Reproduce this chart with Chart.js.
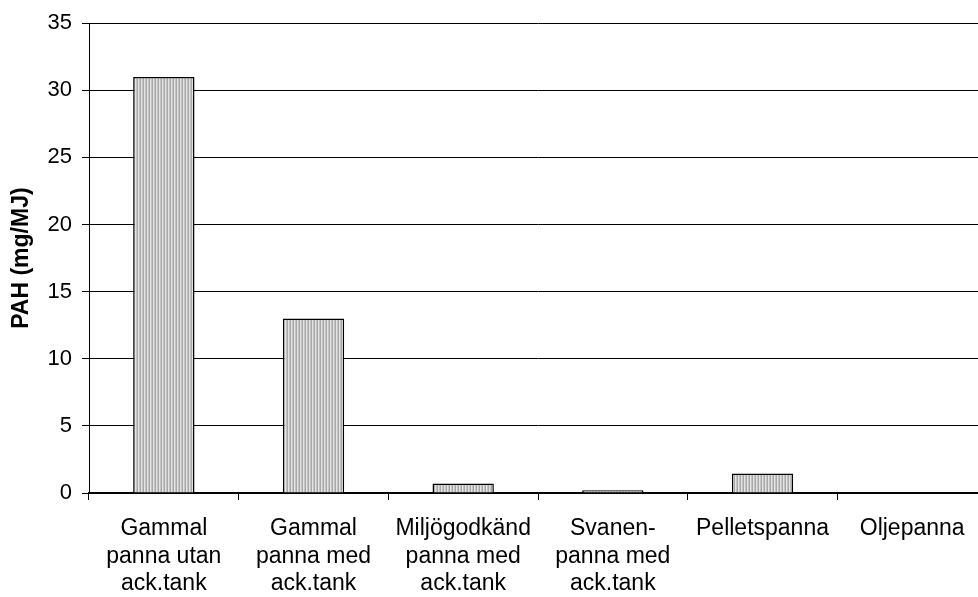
<!DOCTYPE html>
<html>
<head>
<meta charset="utf-8">
<script src="https://cdn.jsdelivr.net/npm/chart.js@4"></script>
<style>
  html, body { margin: 0; padding: 0; background: #fff; overflow: hidden; }
  /* the plot runs a few pixels past the right edge of the page */
  #wrap { width: 978px; height: 597px; overflow: hidden; }
</style>
</head>
<body>
<div id="wrap"><canvas id="c" width="987" height="597"></canvas></div>
<script>
// Boiler types (multi-line category labels)
const categories = [
  ["Gammal", "panna utan", "ack.tank"],
  ["Gammal", "panna med", "ack.tank"],
  ["Miljögodkänd", "panna med", "ack.tank"],
  ["Svanen-", "panna med", "ack.tank"],
  ["Pelletspanna"],
  ["Oljepanna"]
];
// PAH emissions, mg/MJ
const pahValues = [31, 13, 0.7, 0.2, 1.45, 0.05];
const yTicks = [0, 5, 10, 15, 20, 25, 30, 35];

// Vertical stripe fill for the bars
function stripePattern() {
  const p = document.createElement('canvas');
  p.width = 3; p.height = 4;
  const g = p.getContext('2d');
  const cols = ['#e4e4e4', '#c4c4c4', '#a8a8a8'];
  cols.forEach((c, i) => { g.fillStyle = c; g.fillRect(i, 0, 1, 4); });
  return document.getElementById('c').getContext('2d').createPattern(p, 'repeat');
}

const family = 'Arial, "Liberation Sans", sans-serif';
const tickFont = { family: family, size: 22 };
const catFont = { family: family, size: 23, lineHeight: 1.2 };

new Chart(document.getElementById('c'), {
  type: 'bar',
  data: {
    labels: categories,
    datasets: [{
      data: pahValues,
      backgroundColor: stripePattern(),
      borderColor: '#000',
      borderWidth: 1.5,
      barPercentage: 0.82,
      categoryPercentage: 0.5
    }]
  },
  options: {
    responsive: false,
    animation: false,
    layout: { padding: { top: 8, right: 0, left: 0, bottom: 0 } },
    plugins: { legend: { display: false }, tooltip: { enabled: false } },
    scales: {
      x: {
        grid: { drawOnChartArea: false, drawTicks: true, tickLength: 7, color: '#000', offset: true },
        border: { color: '#000', width: 1.5 },
        ticks: { color: '#000', font: catFont, maxRotation: 0, autoSkip: false, padding: 15 },
        afterFit: (s) => { s.height = 104; }
      },
      y: {
        min: 0, max: 35,
        afterBuildTicks: (s) => { s.ticks = yTicks.map(v => ({ value: v })); },
        grid: { color: '#000', lineWidth: 1, tickLength: 7 },
        border: { color: '#000', width: 1 },
        ticks: { color: '#000', font: tickFont, padding: 10 },
        title: { display: true, text: 'PAH (mg/MJ)', color: '#000',
                 font: { family: family, size: 23, weight: 'bold' }, padding: { top: 8, bottom: 0 } },
        afterFit: (s) => { s.width = 89; }
      }
    }
  }
});
</script>
</body>
</html>
